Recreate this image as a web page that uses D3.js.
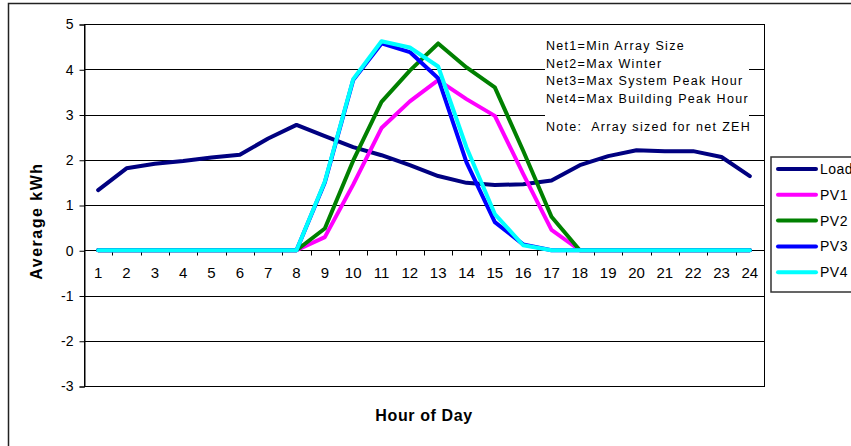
<!DOCTYPE html>
<html>
<head>
<meta charset="utf-8">
<script src="https://cdn.jsdelivr.net/npm/d3@7"></script>
<style>
  html, body { margin: 0; padding: 0; background: #fff; }
  svg { display: block; font-family: "Liberation Sans", Arial, sans-serif; }
</style>
</head>
<body>
<svg id="chart" width="851" height="446"></svg>
<script>
// Hour-of-day categories and average hourly energy per series (kWh)
const hours = d3.range(1, 25).map(String);
const load = [1.33, 1.81, 1.91, 1.97, 2.05, 2.11, 2.47, 2.77, 2.52, 2.28, 2.10, 1.88,
              1.64, 1.49, 1.44, 1.46, 1.54, 1.88, 2.08, 2.21, 2.19, 2.19, 2.06, 1.64];
const pv1 = [0, 0, 0, 0, 0, 0, 0, 0, 0.29, 1.45, 2.70, 3.29,
             3.76, 3.34, 2.97, 1.69, 0.45, 0, 0, 0, 0, 0, 0, 0];
const pv2 = [0, 0, 0, 0, 0, 0, 0, 0, 0.48, 1.98, 3.28, 3.97,
             4.57, 4.04, 3.60, 2.20, 0.74, 0, 0, 0, 0, 0, 0, 0];
const pv3 = [0, 0, 0, 0, 0, 0, 0, 0, 1.50, 3.76, 4.57, 4.38,
             3.80, 1.94, 0.62, 0.13, 0, 0, 0, 0, 0, 0, 0, 0];
const pv4 = [0, 0, 0, 0, 0, 0, 0, 0, 1.52, 3.78, 4.62, 4.48,
             4.06, 2.27, 0.80, 0.11, 0, 0, 0, 0, 0, 0, 0, 0];
const seriesNames = ["Load", "PV1", "PV2", "PV3", "PV4"];
const seriesColors = ["#000080", "#ff00ff", "#008000", "#0000ff", "#00ffff"];
const yTicks = [-3, -2, -1, 0, 1, 2, 3, 4, 5];
const noteLines = [
  "Net1=Min Array Size",
  "Net2=Max Winter",
  "Net3=Max System Peak Hour",
  "Net4=Max Building Peak Hour"
];
const noteFooter = "Note:  Array sized for net ZEH";

const series = [load, pv1, pv2, pv3, pv4].map((values, i) => ({
  name: seriesNames[i], color: seriesColors[i], values
}));

const svg = d3.select("#chart");
const plot = { left: 84, right: 764, top: 24, bottom: 386 };

const x = d3.scaleBand().domain(hours).range([plot.left, plot.right]).padding(0);
const y = d3.scaleLinear().domain([-3, 5]).range([plot.bottom, plot.top]);

// chart frame
svg.append("rect").attr("width", 851).attr("height", 446).attr("fill", "#fff");
svg.append("rect")
  .attr("x", 8.5).attr("y", 3.5).attr("width", 860).attr("height", 460)
  .attr("fill", "none").attr("stroke", "#222").attr("stroke-width", 1.5);

// horizontal gridlines
svg.append("g").selectAll("line").data(yTicks).join("line")
  .attr("x1", plot.left).attr("x2", plot.right)
  .attr("y1", d => Math.round(y(d)) + 0.5).attr("y2", d => Math.round(y(d)) + 0.5)
  .attr("stroke", "#000").attr("stroke-width", 1);

// plot area border
svg.append("rect")
  .attr("x", plot.left + 0.5).attr("y", Math.round(y(5)) + 0.5)
  .attr("width", plot.right - plot.left).attr("height", Math.round(y(-3)) - Math.round(y(5)))
  .attr("fill", "none").attr("stroke", "#000").attr("stroke-width", 1);

// y axis (plain hyphen for negatives)
const yAxis = svg.append("g")
  .attr("transform", `translate(${plot.left + 0.5},0.5)`)
  .call(d3.axisLeft(y).tickValues(yTicks).tickSize(5).tickPadding(6).tickFormat(d => String(d)));
yAxis.select(".domain").attr("stroke", "#000");
yAxis.selectAll(".tick line").attr("stroke", "#000");
yAxis.selectAll(".tick text")
  .attr("font-family", "Liberation Sans, Arial, sans-serif")
  .attr("font-size", 14).attr("fill", "#000");

// x axis along zero, ticks between categories
const zeroY = Math.round(y(0)) + 0.5;
svg.append("line")
  .attr("x1", plot.left).attr("x2", plot.right)
  .attr("y1", zeroY).attr("y2", zeroY).attr("stroke", "#000");
const boundaries = hours.map(h => x(h)).concat([x(hours[hours.length - 1]) + x.bandwidth()]);
svg.append("g").selectAll("line").data(boundaries).join("line")
  .attr("x1", d => Math.round(d) + 0.5).attr("x2", d => Math.round(d) + 0.5)
  .attr("y1", zeroY).attr("y2", zeroY + 5)
  .attr("stroke", "#000");
const xAxis = svg.append("g")
  .attr("transform", `translate(0,${zeroY})`)
  .call(d3.axisBottom(x).tickSize(0).tickPadding(17));
xAxis.select(".domain").remove();
xAxis.selectAll(".tick text")
  .attr("font-family", "Liberation Sans, Arial, sans-serif")
  .attr("font-size", 15).attr("fill", "#000");

// axis titles
svg.append("text")
  .attr("x", (plot.left + plot.right) / 2).attr("y", 421)
  .attr("text-anchor", "middle")
  .attr("font-size", 16).attr("font-weight", "bold").attr("letter-spacing", 0.6)
  .text("Hour of Day");
svg.append("text")
  .attr("transform", "translate(42,221) rotate(-90)")
  .attr("text-anchor", "middle")
  .attr("font-size", 16).attr("font-weight", "bold").attr("letter-spacing", 1.5)
  .text("Average kWh");

// series lines
const line = d3.line()
  .x((d, i) => x(hours[i]) + x.bandwidth() / 2)
  .y(d => y(d));
svg.append("g").selectAll("path").data(series).join("path")
  .attr("d", d => line(d.values))
  .attr("fill", "none")
  .attr("stroke", d => d.color)
  .attr("stroke-width", 4)
  .attr("stroke-linejoin", "round")
  .attr("stroke-linecap", "round");

// annotation block
const note = svg.append("g");
note.append("rect")
  .attr("x", 545).attr("y", 34).attr("width", 204).attr("height", 104)
  .attr("fill", "#fff");
note.selectAll("text.line").data(noteLines).join("text")
  .attr("class", "line")
  .attr("x", 546).attr("y", (d, i) => 50 + i * 17.5)
  .attr("font-size", 12.5).attr("letter-spacing", 1.3)
  .text(d => d);
note.append("text")
  .attr("x", 546).attr("y", 131)
  .attr("font-size", 12.5).attr("letter-spacing", 1.3)
  .style("white-space", "pre")
  .text(noteFooter);

// legend (its box runs past the right edge of the chart)
const legend = svg.append("g");
legend.append("rect")
  .attr("x", 771).attr("y", 157).attr("width", 100).attr("height", 135)
  .attr("fill", "#fff").attr("stroke", "#333").attr("stroke-width", 1.5);
const items = legend.selectAll("g.item").data(series).join("g")
  .attr("class", "item")
  .attr("transform", (d, i) => `translate(0,${169 + i * 25.8})`);
items.append("line")
  .attr("x1", 778).attr("x2", 816)
  .attr("stroke", d => d.color).attr("stroke-width", 4).attr("stroke-linecap", "round");
items.append("text")
  .attr("x", 820).attr("y", 5)
  .attr("font-size", 14).attr("letter-spacing", 0.5)
  .text(d => d.name);
</script>
</body>
</html>
